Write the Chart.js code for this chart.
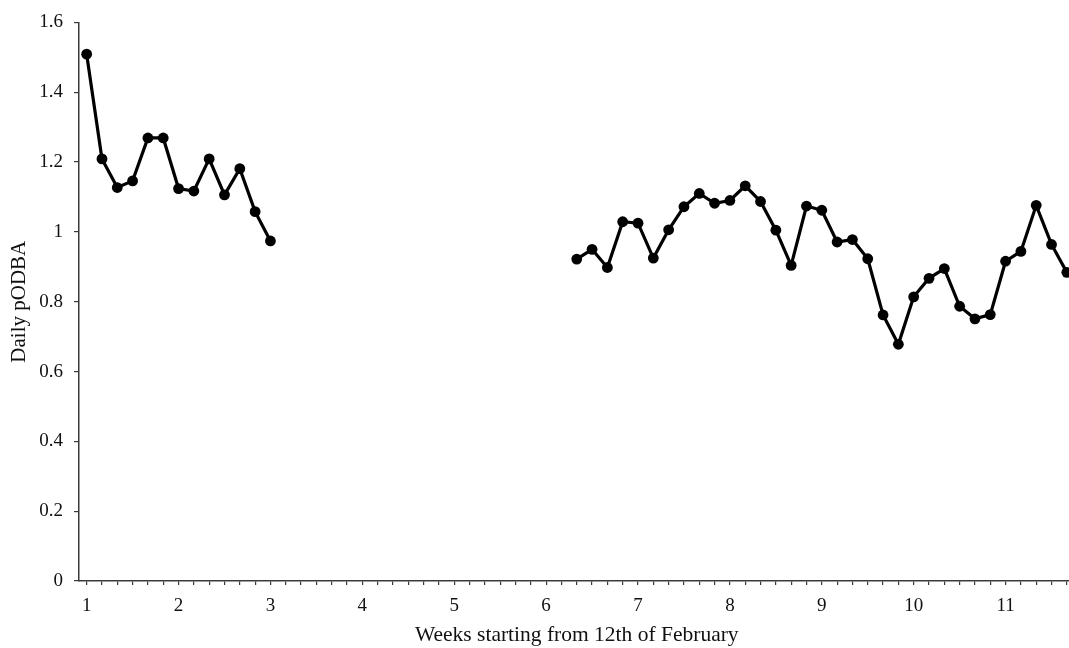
<!DOCTYPE html>
<html>
<head>
<meta charset="utf-8">
<title>Daily pODBA</title>
<script src="https://cdn.jsdelivr.net/npm/chart.js@4.4.1/dist/chart.umd.min.js"></script>
<style>
  html, body { margin: 0; padding: 0; background: #ffffff; overflow: hidden; }
  #wrap { width: 1080px; height: 648px; }
</style>
</head>
<body>
<div id="wrap"><canvas id="chart" width="1080" height="648"></canvas></div>
<script>
// Day index (6 readings per week) of the first reading in each recording spell
const spellStarts = [0, 32];

// Daily pODBA, first recording spell (weeks 1 to 3)
const spellA = [1.509, 1.209, 1.127, 1.146, 1.269, 1.269, 1.124, 1.117, 1.209, 1.106, 1.181, 1.058, 0.974];

// Daily pODBA, second recording spell (week 6.3 onwards)
const spellB = [0.922, 0.950, 0.898, 1.029, 1.025, 0.925, 1.006, 1.072, 1.110, 1.082, 1.090, 1.132,
                1.087, 1.005, 0.904, 1.074, 1.062, 0.971, 0.978, 0.923, 0.762, 0.678, 0.814, 0.867,
                0.895, 0.787, 0.751, 0.763, 0.916, 0.944, 1.076, 0.964, 0.884];

// Axis settings
const readingsPerWeek = 6;
const lastDay = 64;
const yTicks = [0, 0.2, 0.4, 0.6, 0.8, 1.0, 1.2, 1.4, 1.6];
const xTitle = 'Weeks starting from 12th of February';
const yTitle = 'Daily pODBA';

const toPoints = (values, start) => values.map((v, k) => ({ x: start + k, y: v }));

const axisColor = '#3a3a3a';
const serif = 'Liberation Serif, Times New Roman, serif';

const lineStyle = {
  borderColor: '#000000',
  backgroundColor: '#000000',
  borderWidth: 3.2,
  pointRadius: 5.4,
  pointHoverRadius: 5.4,
  pointBorderWidth: 0,
  tension: 0,
  clip: false
};

new Chart(document.getElementById('chart'), {
  type: 'line',
  data: {
    datasets: [
      Object.assign({ data: toPoints(spellA, spellStarts[0]) }, lineStyle),
      Object.assign({ data: toPoints(spellB, spellStarts[1]) }, lineStyle)
    ]
  },
  options: {
    responsive: false,
    animation: false,
    events: [],
    layout: { padding: { top: 21, right: 5.5, bottom: 0, left: 0 } },
    plugins: { legend: { display: false }, tooltip: { enabled: false } },
    scales: {
      x: {
        type: 'linear',
        min: -0.5,
        max: lastDay + 0.5,
        afterBuildTicks: (scale) => {
          const t = [];
          for (let d = 0; d <= lastDay; d++) t.push({ value: d });
          scale.ticks = t;
        },
        afterFit: (scale) => { scale.height = 67; },
        ticks: {
          autoSkip: false,
          maxRotation: 0,
          minRotation: 0,
          padding: 10,
          color: '#111111',
          font: { family: serif, size: 19 },
          callback: (v) => (v % readingsPerWeek === 0 ? String(1 + v / readingsPerWeek) : '')
        },
        grid: { drawOnChartArea: false, drawTicks: true, tickLength: 4, color: axisColor, lineWidth: 1.2 },
        border: { display: true, color: axisColor, width: 1.5 },
        title: {
          display: true,
          text: xTitle,
          color: '#111111',
          font: { family: serif, size: 21.5 },
          padding: { top: 0, bottom: 0 }
        }
      },
      y: {
        type: 'linear',
        min: 0,
        max: 1.6,
        afterBuildTicks: (scale) => { scale.ticks = yTicks.map((v) => ({ value: v })); },
        afterFit: (scale) => { scale.width = 79; },
        ticks: {
          padding: 11,
          color: '#111111',
          font: { family: serif, size: 19 },
          callback: (v) => String(Math.round(v * 10) / 10)
        },
        grid: { drawOnChartArea: false, drawTicks: true, tickLength: 5, color: axisColor, lineWidth: 1.2 },
        border: { display: true, color: axisColor, width: 1.5 },
        title: {
          display: true,
          text: yTitle,
          color: '#111111',
          font: { family: serif, size: 21 },
          padding: { top: 7, bottom: 0 }
        }
      }
    }
  }
});
</script>
</body>
</html>
